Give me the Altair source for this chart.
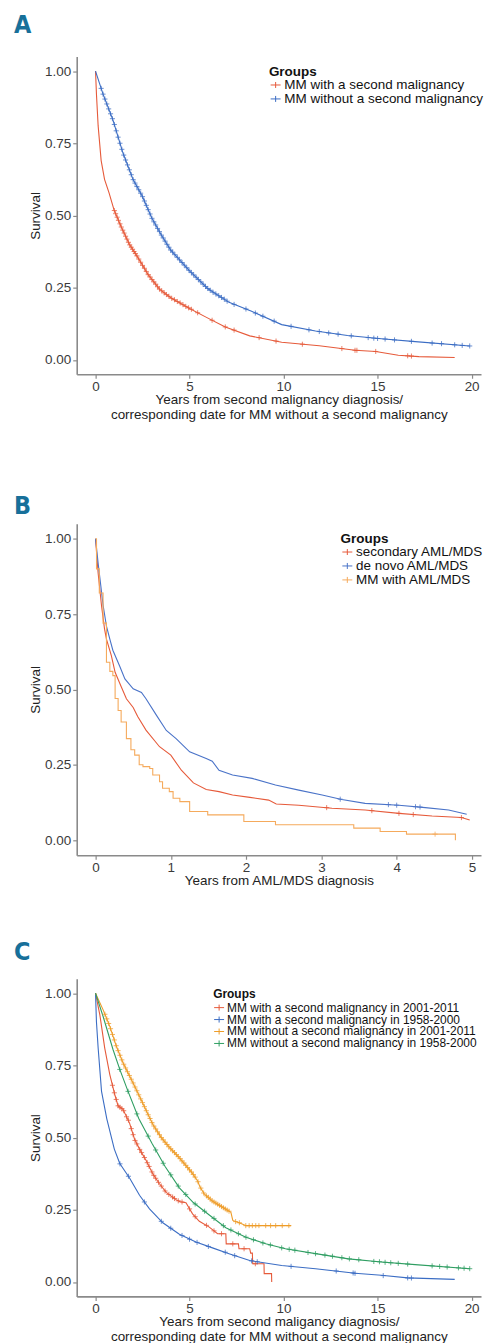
import altair as alt
import pandas as pd

FONT = "Liberation Sans, Arial, sans-serif"
LABEL_FONT = "Liberation Sans Narrow, DejaVu Sans Condensed, sans-serif"
LABEL_COLOR = "#17709A"
CROSS = "M-1,0H1M0,-1V1"

# ---------------- Panel A ----------------
A_names = ["MM with a second malignancy", "MM without a second malignancy"]
A_colors = ["#E65A3A", "#3B6DC4"]

A_red_t = [0, 0.05, 0.14, 0.3, 0.48, 0.72, 0.98, 1.37, 1.8, 2.2, 2.8, 3.4, 4.0, 5.0, 5.9, 6.9, 8.2, 9.9, 11.9, 13.8, 14.9, 16.1, 17.2, 19.1]
A_red_s = [1, 0.92, 0.81, 0.69, 0.625, 0.578, 0.52, 0.46, 0.40, 0.36, 0.295, 0.245, 0.215, 0.178, 0.147, 0.114, 0.083, 0.061, 0.049, 0.033, 0.029, 0.016, 0.011, 0.008]
A_red_ct = [1.0, 1.15, 1.3, 1.45, 1.6, 1.75, 1.9, 2.05, 2.2, 2.4, 2.6, 2.8, 3.0, 3.2, 3.4, 3.65, 3.9, 4.2, 4.5, 4.8, 5.1, 5.43, 6.2, 6.9, 7.37, 8.7, 9.6, 11.0, 13.1, 13.8, 13.9, 14.9, 16.6, 16.8,
            1.07, 1.22, 1.37, 1.52, 1.67, 1.82, 1.97, 2.12, 2.3, 2.5, 2.7, 2.9, 3.1, 3.3, 3.52, 3.77, 4.05, 4.35, 4.65, 4.95]
A_red_cs = [0.517, 0.494, 0.471, 0.449, 0.428, 0.407, 0.39, 0.375, 0.36, 0.338, 0.317, 0.295, 0.278, 0.262, 0.245, 0.232, 0.22, 0.208, 0.197, 0.185, 0.175, 0.163, 0.137, 0.114, 0.103, 0.077, 0.065, 0.054, 0.039, 0.033, 0.033, 0.029, 0.014, 0.013,
            0.506, 0.483, 0.46, 0.439, 0.418, 0.398, 0.383, 0.368, 0.349, 0.327, 0.306, 0.287, 0.27, 0.253, 0.239, 0.226, 0.213, 0.202, 0.191, 0.18]

A_blue_t = [0, 0.2, 0.4, 0.93, 1.46, 2.0, 2.5, 3.0, 3.5, 4.0, 5.0, 6.0, 7.1, 8.3, 9.9, 11.7, 13.4, 15.2, 17.0, 19.9]
A_blue_s = [1, 0.96, 0.92, 0.83, 0.716, 0.624, 0.565, 0.49, 0.432, 0.38, 0.308, 0.245, 0.199, 0.168, 0.122, 0.10, 0.084, 0.073, 0.063, 0.048]
A_blue_ct = [0.3, 0.5, 0.7, 0.9, 1.1, 1.3, 1.5, 1.7, 1.9, 2.1, 2.3, 2.5, 2.7, 2.9, 3.1, 3.3, 3.5, 3.7, 3.9, 4.1, 4.35, 4.6, 4.85, 5.1, 5.35, 5.6, 5.85, 6.1, 6.4, 6.7, 7.0,
             7.37, 8.0, 8.5, 8.9, 9.5, 10.4, 11.35, 11.9, 12.4, 12.9, 13.6, 14.5, 14.8, 15.0, 15.4, 15.9, 16.8, 17.9, 18.4, 19.1, 19.5, 19.9,
             0.4, 0.6, 0.8, 1.0, 1.2, 1.4, 1.6, 1.8, 2.0, 2.2, 2.4, 2.6, 2.8, 3.0, 3.2, 3.4, 3.6, 3.8, 4.0, 4.22, 4.47, 4.72, 4.97, 5.22, 5.47, 5.72, 5.97, 6.25, 6.55, 6.85]
A_blue_cs = [0.94, 0.903, 0.869, 0.835, 0.793, 0.75, 0.709, 0.675, 0.641, 0.612, 0.589, 0.565, 0.535, 0.505, 0.478, 0.455, 0.432, 0.411, 0.39, 0.373, 0.355, 0.337, 0.319, 0.302, 0.286, 0.27, 0.254, 0.241, 0.228, 0.216, 0.203,
             0.192, 0.176, 0.162, 0.151, 0.134, 0.116, 0.104, 0.098, 0.093, 0.089, 0.083, 0.077, 0.075, 0.074, 0.072, 0.069, 0.064, 0.058, 0.056, 0.052, 0.05, 0.048,
             0.92, 0.886, 0.852, 0.815, 0.771, 0.729, 0.692, 0.658, 0.624, 0.60, 0.577, 0.55, 0.52, 0.49, 0.467, 0.444, 0.422, 0.40, 0.38, 0.364, 0.346, 0.328, 0.31, 0.294, 0.278, 0.262, 0.247, 0.234, 0.222, 0.21]

# ---------------- Panel B ----------------
B_names = ["secondary AML/MDS", "de novo AML/MDS", "MM with AML/MDS"]
B_colors = ["#E65A3A", "#4A73C8", "#F5AA5C"]

B_red_t = [0, 0.034, 0.08, 0.12, 0.145, 0.21, 0.26, 0.34, 0.41, 0.50, 0.56, 0.67, 0.85, 1.0, 1.14, 1.3, 1.47, 1.64, 1.82, 2.05, 2.3, 2.4, 2.7, 3.14, 3.58, 4.03, 4.47, 4.86, 4.97]
B_red_s = [1, 0.887, 0.777, 0.70, 0.667, 0.612, 0.557, 0.51, 0.469, 0.44, 0.41, 0.365, 0.31, 0.282, 0.232, 0.19, 0.168, 0.161, 0.15, 0.142, 0.133, 0.12, 0.116, 0.106, 0.10, 0.089, 0.08, 0.075, 0.067]
B_red_ct = [3.07, 3.67, 4.03, 4.22, 4.86]
B_red_cs = [0.108, 0.098, 0.089, 0.085, 0.075]

B_blue_t = [0, 0.034, 0.10, 0.145, 0.19, 0.23, 0.32, 0.39, 0.5, 0.61, 0.67, 0.81, 0.94, 1.07, 1.25, 1.47, 1.55, 1.64, 1.82, 2.08, 2.39, 2.7, 3.01, 3.27, 3.58, 4.03, 4.38, 4.69, 4.93]
B_blue_s = [1, 0.92, 0.78, 0.71, 0.667, 0.63, 0.578, 0.535, 0.502, 0.49, 0.469, 0.414, 0.364, 0.337, 0.293, 0.271, 0.262, 0.232, 0.216, 0.205, 0.183, 0.166, 0.15, 0.135, 0.122, 0.116, 0.108, 0.10, 0.086]
B_blue_ct = [3.25, 3.89, 4.0, 4.25, 4.31]
B_blue_cs = [0.136, 0.118, 0.116, 0.111, 0.11]

B_orange_t = [0, 0.013, 0.05, 0.10, 0.145, 0.19, 0.23, 0.26, 0.30, 0.34, 0.41, 0.47, 0.52, 0.58, 0.63, 0.72, 0.76, 0.85, 0.89, 0.98, 1.03, 1.12, 1.25, 1.49, 1.97, 2.39, 3.43, 3.78, 4.13, 4.78]
B_orange_s = [1, 0.90, 0.82, 0.72, 0.59, 0.56, 0.546, 0.47, 0.43, 0.392, 0.337, 0.30, 0.282, 0.25, 0.244, 0.238, 0.216, 0.194, 0.172, 0.161, 0.139, 0.128, 0.095, 0.084, 0.062, 0.051, 0.04, 0.029, 0.02, 0.0]
B_orange_ct = [4.51]
B_orange_cs = [0.02]

# ---------------- Panel C ----------------
C_names = ["MM with a second malignancy in 2001-2011", "MM with a second malignancy in 1958-2000",
           "MM without a second malignancy in 2001-2011", "MM without a second malignancy in 1958-2000"]
C_colors = ["#E65A3A", "#3B6DC4", "#EE9C28", "#2F9E62"]

C_red_t = [0, 0.23, 0.49, 0.76, 1.02, 1.2, 1.46, 1.81, 2.08, 2.34, 2.70, 3.05, 3.40, 3.76, 4.28, 4.5, 4.81, 5.16, 5.52, 6.05, 6.49, 6.93, 6.95, 7.6, 7.63, 8.2, 8.25, 8.34, 8.36, 8.96, 8.97, 9.36, 9.37]
C_red_s = [1, 0.925, 0.81, 0.718, 0.65, 0.61, 0.598, 0.55, 0.494, 0.46, 0.42, 0.374, 0.34, 0.31, 0.285, 0.278, 0.274, 0.236, 0.21, 0.19, 0.167, 0.167, 0.132, 0.132, 0.115, 0.115, 0.10, 0.10, 0.063, 0.063, 0.029, 0.029, 0.0]
C_red_ct = [0.9, 1.1, 1.3, 1.5, 1.65, 1.9, 2.0, 2.2, 2.45, 2.6, 2.85, 3.0, 3.2, 3.5, 3.9, 4.1, 4.4, 4.6, 5.0, 5.3, 5.9, 6.3, 6.7, 7.3, 7.9, 8.5,
            1.0, 1.2, 1.4, 1.75, 2.1, 2.35, 2.75, 3.1, 3.35, 3.7, 4.2]
C_red_cs = [0.681, 0.632, 0.605, 0.593, 0.572, 0.531, 0.51, 0.478, 0.448, 0.431, 0.40, 0.381, 0.359, 0.332, 0.303, 0.294, 0.281, 0.277, 0.253, 0.226, 0.196, 0.177, 0.167, 0.132, 0.115, 0.063,
            0.655, 0.61, 0.60, 0.56, 0.49, 0.459, 0.413, 0.369, 0.345, 0.315, 0.289]

C_blue_t = [0, 0.05, 0.14, 0.32, 0.6, 1.0, 1.29, 1.81, 2.34, 2.87, 3.58, 4.46, 5.34, 6.22, 7.1, 8.2, 9.9, 11.7, 13.8, 15.2, 16.6, 19.1]
C_blue_s = [1, 0.9, 0.81, 0.66, 0.565, 0.46, 0.41, 0.36, 0.30, 0.253, 0.205, 0.165, 0.138, 0.118, 0.098, 0.074, 0.057, 0.046, 0.03, 0.023, 0.014, 0.009]
C_blue_ct = [1.3, 1.75, 2.6, 3.5, 4.0, 4.6, 5.0, 5.4, 6.0, 6.9, 7.4, 8.3, 8.6, 10.4, 12.8, 13.7, 13.8, 15.3, 16.6, 16.8]
C_blue_cs = [0.409, 0.366, 0.277, 0.21, 0.186, 0.161, 0.148, 0.137, 0.123, 0.103, 0.091, 0.073, 0.07, 0.054, 0.038, 0.031, 0.03, 0.022, 0.014, 0.0136]

C_orange_t = [0, 0.4, 0.76, 1.11, 1.46, 1.99, 2.52, 3.05, 3.5, 3.93, 4.46, 5.16, 5.43, 5.55, 5.78, 6.22, 6.75, 7.2, 7.3, 7.8, 8.0, 10.4]
C_orange_s = [1, 0.943, 0.885, 0.816, 0.759, 0.69, 0.618, 0.545, 0.50, 0.466, 0.43, 0.376, 0.35, 0.33, 0.305, 0.28, 0.259, 0.241, 0.213, 0.201, 0.195, 0.195]
C_orange_ct = [0.5, 0.7, 0.9, 1.1, 1.3, 1.5, 1.7, 1.9, 2.1, 2.3, 2.5, 2.7, 2.9, 3.1, 3.3, 3.5, 3.7, 3.9, 4.1, 4.3, 4.5, 4.7, 4.9, 5.1, 5.3, 5.6, 5.9, 6.1, 6.3, 6.5, 6.7, 6.9, 7.1, 7.45, 7.65,
               7.99, 8.17, 8.34, 8.52, 8.69, 9.05, 9.31, 9.58, 9.93, 10.28,
               0.6, 0.8, 1.0, 1.2, 1.4, 1.6, 1.8, 2.0, 2.2, 2.4, 2.6, 2.8, 3.0, 3.2, 3.4, 3.6, 3.8, 4.0, 4.2, 4.4, 4.6, 4.8, 5.0, 5.2, 5.45, 5.75, 6.0, 6.2, 6.4, 6.6, 6.8, 7.0]
C_orange_cs = [0.927, 0.895, 0.857, 0.818, 0.785, 0.754, 0.728, 0.702, 0.675, 0.648, 0.621, 0.593, 0.566, 0.54, 0.52, 0.50, 0.484, 0.468, 0.454, 0.441, 0.427, 0.412, 0.396, 0.381, 0.363, 0.325, 0.298, 0.287, 0.277, 0.269, 0.261, 0.253, 0.245, 0.209, 0.205,
               0.195, 0.195, 0.195, 0.195, 0.195, 0.195, 0.195, 0.195, 0.195, 0.195,
               0.911, 0.877, 0.838, 0.801, 0.769, 0.741, 0.715, 0.689, 0.662, 0.634, 0.607, 0.579, 0.552, 0.53, 0.51, 0.492, 0.476, 0.461, 0.448, 0.434, 0.419, 0.404, 0.388, 0.372, 0.347, 0.308, 0.293, 0.281, 0.273, 0.265, 0.257, 0.249]

C_green_t = [0, 0.4, 0.93, 1.29, 1.73, 2.3, 3.0, 3.7, 4.46, 5.2, 6.05, 6.93, 8.0, 9.05, 10.1, 11.7, 13.45, 15.2, 17.0, 19.9]
C_green_s = [1, 0.92, 0.805, 0.736, 0.66, 0.566, 0.48, 0.40, 0.326, 0.275, 0.232, 0.188, 0.155, 0.132, 0.115, 0.098, 0.08, 0.069, 0.06, 0.046]
C_green_ct = [1.29, 1.73, 2.2, 2.8, 3.2, 3.6, 4.0, 4.4, 4.8, 5.3, 5.8, 6.3, 6.8, 7.2, 7.6, 8.0, 8.4, 8.9, 9.3, 9.9, 10.3, 10.6, 11.3, 11.7, 12.2, 12.6, 13.1, 13.5, 14.0, 14.8, 15.1, 15.4, 15.7, 16.1, 16.6, 17.9, 18.3, 18.7, 19.3, 19.6, 19.9]
C_green_cs = [0.736, 0.66, 0.582, 0.505, 0.457, 0.411, 0.371, 0.332, 0.303, 0.27, 0.245, 0.22, 0.195, 0.18, 0.167, 0.155, 0.146, 0.135, 0.128, 0.118, 0.113, 0.11, 0.102, 0.098, 0.093, 0.089, 0.084, 0.08, 0.077, 0.071, 0.07, 0.068, 0.0665, 0.0645, 0.062, 0.0557, 0.0537, 0.0518, 0.0489, 0.0475, 0.046]


def to_df(names, ts_list, ss_list):
    rows = []
    for n, ts, ss in zip(names, ts_list, ss_list):
        for i, (t, s) in enumerate(zip(ts, ss)):
            rows.append({"group": n, "t": t, "s": s, "order": i})
    return pd.DataFrame(rows)


def panel(key, title_lines, title_offset, title_lh, names, colors, curves, censors, xdom, xticks, xtitle,
          h, lx, ly, leg_font=13.5, step_names=()):
    ldf = to_df(names, [c[0] for c in curves], [c[1] for c in curves])
    cdf = to_df(names, [c[0] for c in censors], [c[1] for c in censors])
    field = "group" + key
    ldf = ldf.rename(columns={"group": field})
    cdf = cdf.rename(columns={"group": field})
    x = alt.X("t:Q", scale=alt.Scale(domain=xdom, nice=False, zero=False),
              axis=alt.Axis(values=xticks, format="d", title=xtitle, titleLineHeight=14.5,
                            titlePadding=0, labelPadding=1))
    y = alt.Y("s:Q", scale=alt.Scale(domain=[-0.05, 1.05], nice=False, zero=False),
              axis=alt.Axis(values=[0, 0.25, 0.5, 0.75, 1.0], format=".2f", title="Survival"))
    cscale = alt.Scale(domain=names, range=colors)
    leg = alt.Legend(title="Groups", orient="none", legendX=lx, legendY=ly,
                     symbolType="M-1,0H1M0,-0.6V0.6", symbolSize=100, symbolStrokeWidth=1,
                     labelFontSize=leg_font, labelFont=FONT, labelColor="#111", titleFont=FONT,
                     titleFontSize=leg_font, titleFontWeight="bold", titleColor="#111", titlePadding=1,
                     rowPadding=0, clipHeight=12, labelOffset=2, padding=0, labelLimit=400)
    lin_df = ldf[~ldf[field].isin(step_names)]
    stp_df = ldf[ldf[field].isin(step_names)]
    layers = [
        alt.Chart(lin_df).mark_line(strokeWidth=1.1).encode(
            x=x, y=y, color=alt.Color(field + ":N", scale=cscale, sort=names, legend=leg),
            order="order:Q")
    ]
    if len(stp_df):
        layers.append(alt.Chart(stp_df).mark_line(strokeWidth=1.1, interpolate="step-after").encode(
            x=x, y=y, color=alt.Color(field + ":N", scale=cscale, sort=names, legend=None),
            order="order:Q"))
    layers.append(alt.Chart(cdf).mark_point(shape=CROSS, size=26, filled=False, strokeWidth=0.8, opacity=0.95).encode(
        x=x, y=y, color=alt.Color(field + ":N", scale=cscale, sort=names, legend=None)))
    return alt.layer(*layers).properties(
        width=406, height=h,
        title=alt.TitleParams(text=title_lines, anchor="start", frame="group", dx=-63, offset=title_offset,
                              fontSize=25, font=LABEL_FONT, fontWeight="bold", color=LABEL_COLOR,
                              lineHeight=title_lh))


pA = panel("A", "A", 19, 17, A_names, A_colors,
           [(A_red_t, A_red_s), (A_blue_t, A_blue_s)],
           [(A_red_ct, A_red_cs), (A_blue_ct, A_blue_cs)],
           [-1, 20.5], [0, 5, 10, 15, 20],
           ["Years from second malignancy diagnosis/", "corresponding date for MM without a second malignancy"],
           319, 193, 8)

pB = panel("B", [" ", "B"], 5, 20, B_names, B_colors,
           [(B_red_t, B_red_s), (B_blue_t, B_blue_s), (B_orange_t, B_orange_s)],
           [(B_red_ct, B_red_cs), (B_blue_ct, B_blue_cs), (B_orange_ct, B_orange_cs)],
           [-0.25, 5.12], [0, 1, 2, 3, 4, 5],
           "Years from AML/MDS diagnosis",
           333, 265, 8, step_names=("MM with AML/MDS",))

pC = panel("C", "C", 14, 17, C_names, C_colors,
           [(C_red_t, C_red_s), (C_blue_t, C_blue_s), (C_orange_t, C_orange_s), (C_green_t, C_green_s)],
           [(C_red_ct, C_red_cs), (C_blue_ct, C_blue_cs), (C_orange_ct, C_orange_cs), (C_green_ct, C_green_cs)],
           [-1, 20.5], [0, 5, 10, 15, 20],
           ["Years from second maligancy diagnosis/", "corresponding date for MM without a second malignancy"],
           319, 137, 10, leg_font=12)

chart = alt.vconcat(pA, pB, pC, spacing=53).resolve_scale(
    color="independent", x="independent", y="independent"
).resolve_legend(color="independent").properties(
    padding={"left": 6, "top": 2, "right": 0, "bottom": 0}
).configure_view(stroke=None).configure_axis(
    grid=False, domainColor="#8a8a8a", domainWidth=1.6, tickColor="#8a8a8a", tickWidth=1.2, tickSize=4,
    labelFont=FONT, labelFontSize=13.5, labelColor="#3a3a3a", labelPadding=2,
    titleFont=FONT, titleFontSize=13.5, titleFontWeight="normal", titleColor="#222", titlePadding=2
)

chart.save("out.html", embed_options={"renderer": "svg", "actions": False})
